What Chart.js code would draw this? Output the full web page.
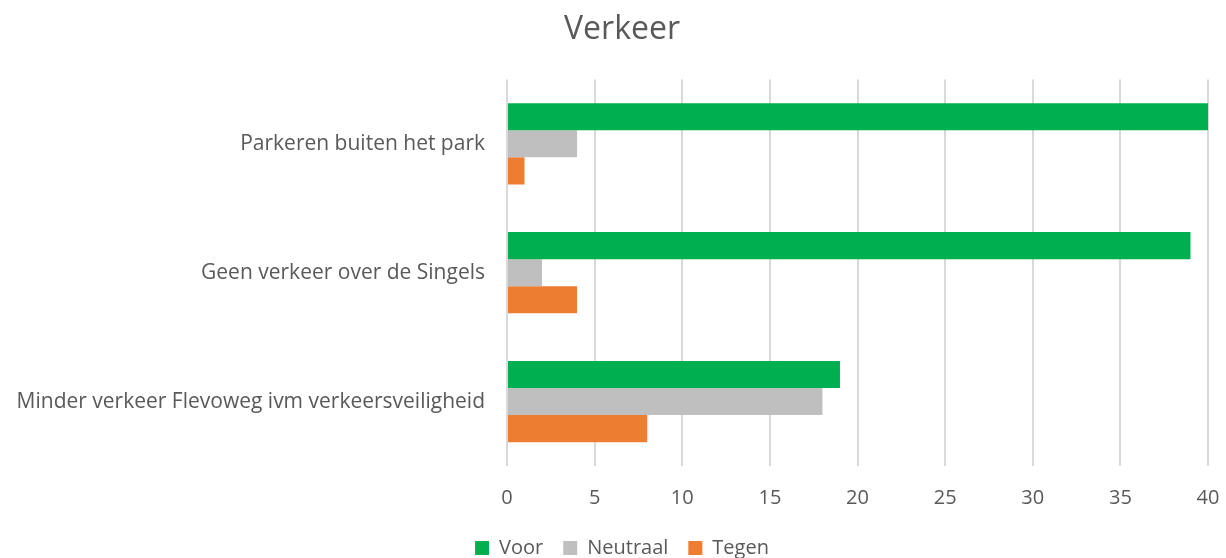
<!DOCTYPE html>
<html>
<head>
<meta charset="utf-8">
<script src="https://cdn.jsdelivr.net/npm/chart.js@4/dist/chart.umd.min.js"></script>
<style>
  body { margin: 0; background: #fff; }
  #wrap { width: 1226px; height: 558px; }
</style>
</head>
<body>
<div id="wrap"><canvas id="barChart" width="1226" height="558"></canvas></div>
<script>
const categories = ['Parkeren buiten het park', 'Geen verkeer over de Singels', 'Minder verkeer Flevoweg ivm verkeersveiligheid'];
const voor = [40, 39, 19];
const neutraal = [4, 2, 18];
const tegen = [1, 4, 8];
const xTicks = [0, 5, 10, 15, 20, 25, 30, 35, 40];

const textColor = '#595959';
const font = "'Open Sans', 'Noto Sans', sans-serif";

const ctx = document.getElementById('barChart').getContext('2d');

new Chart(ctx, {
    type: 'bar',
    data: {
        labels: categories,
        datasets: [
            { label: 'Voor', data: voor, backgroundColor: '#00b050' },
            { label: 'Neutraal', data: neutraal, backgroundColor: '#bfbfbf' },
            { label: 'Tegen', data: tegen, backgroundColor: '#ed7d31' }
        ]
    },
    options: {
        indexAxis: 'y',
        responsive: false,
        animation: false,
        categoryPercentage: 0.63,
        barPercentage: 1,
        layout: { padding: { left: 18, right: 0, top: 0, bottom: -10 } },
        plugins: {
            title: {
                display: true,
                text: 'Verkeer',
                color: textColor,
                font: { family: font, size: 32, weight: 'normal' },
                padding: { top: 11, bottom: 30 }
            },
            legend: {
                position: 'bottom',
                labels: {
                    color: textColor,
                    font: { family: font, size: 20 },
                    boxWidth: 14,
                    boxHeight: 14,
                    padding: 20
                }
            },
            tooltip: { enabled: false }
        },
        scales: {
            x: {
                min: 0,
                max: 40,
                afterBuildTicks: function(scale) {
                    scale.ticks = xTicks.map(v => ({ value: v }));
                },
                afterFit: function(scale) {
                    scale.paddingRight = 18;
                    scale.height -= 12;
                },
                grid: { color: '#d9d9d9', lineWidth: 2, drawTicks: false },
                border: { display: false },
                ticks: {
                    color: textColor,
                    font: { family: font, size: 20 },
                    padding: 20
                }
            },
            y: {
                afterFit: function(scale) { scale.width = 489; },
                grid: { display: false, drawTicks: false },
                border: { display: false },
                ticks: {
                    color: textColor,
                    font: { family: font, size: 21 },
                    padding: 22
                }
            }
        }
    }
});
</script>
</body>
</html>
